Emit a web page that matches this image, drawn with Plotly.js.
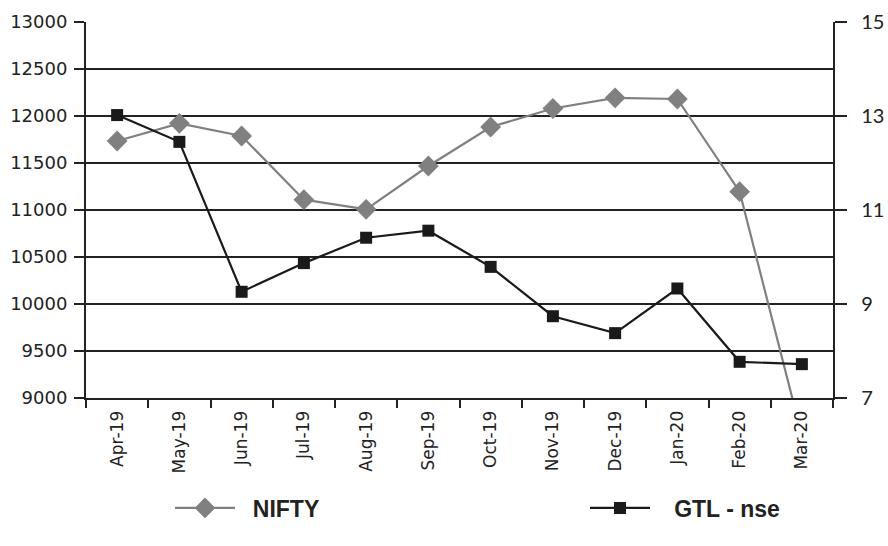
<!DOCTYPE html>
<html><head><meta charset="utf-8">
<script src="https://cdn.plot.ly/plotly-3.0.1.min.js"></script>
<style>html,body{margin:0;padding:0;background:#fff}#chart{width:888px;height:546px}</style>
</head><body><div id="chart"></div>
<script>
const months = ["Apr-19","May-19","Jun-19","Jul-19","Aug-19","Sep-19","Oct-19","Nov-19","Dec-19","Jan-20","Feb-20","Mar-20"];
const nifty = [11734,11922,11787,11110,11007,11468,11883,12080,12193,12181,11195,8600];
const gtl = [13.02,12.45,9.26,9.87,10.41,10.56,9.79,8.74,8.38,9.33,7.77,7.72];
const leftTicks = [9000,9500,10000,10500,11000,11500,12000,12500,13000];
const rightTicks = [7,9,11,13,15];

const legFont = {family: "Liberation Sans Narrow, Liberation Sans, sans-serif", size: 23, color: "#222", weight: "bold"};
const sp = "\u00a0\u00a0";
const traces = [
 {x: months, y: nifty, name: sp + "NIFTY", type: "scatter", mode: "lines+markers",
  line: {color: "#808080", width: 2.2},
  marker: {symbol: "diamond", size: 16, color: "#808080"}, yaxis: "y", legend: "legend"},
 {x: months, y: gtl, name: sp + "\u00a0GTL - nse", type: "scatter", mode: "lines+markers",
  line: {color: "#1a1a1a", width: 2.2},
  marker: {symbol: "square", size: 12, color: "#1a1a1a"}, yaxis: "y2", legend: "legend2"}
];
const layout = {
 width: 888, height: 546,
 margin: {l: 86, r: 55, t: 22, b: 148, autoexpand: false},
 paper_bgcolor: "#fff", plot_bgcolor: "#fff",
 showlegend: true,
 legend: {xref: "container", yref: "container", x: 170/888, xanchor: "left", y: (546-508)/546, yanchor: "middle",
   itemwidth: 60, font: legFont, bgcolor: "rgba(0,0,0,0)"},
 legend2: {xref: "container", yref: "container", x: 585/888, xanchor: "left", y: (546-508)/546, yanchor: "middle",
   itemwidth: 60, font: legFont, bgcolor: "rgba(0,0,0,0)"},
 xaxis: {type: "category", tickson: "boundaries", ticks: "outside", ticklen: 8, tickwidth: 2, tickcolor: "#222",
   showline: true, linecolor: "#222", linewidth: 2, showgrid: false, tickangle: -90, ticklabelstandoff: 4,
   tickfont: {family: "DejaVu Sans, sans-serif", size: 17, color: "#222"}, range: [-0.5, 11.5]},
 yaxis: {range: [9000, 13000], tickvals: leftTicks, ticktext: leftTicks.map(String),
   ticks: "outside", ticklen: 10, tickwidth: 2, tickcolor: "#222", ticklabelstandoff: 3,
   showline: true, linecolor: "#222", linewidth: 2,
   showgrid: true, gridcolor: "#222", gridwidth: 2, zeroline: false,
   tickfont: {family: "DejaVu Sans, sans-serif", size: 18, color: "#222"}},
 yaxis2: {overlaying: "y", side: "right", range: [7, 15], tickvals: rightTicks,
   ticktext: rightTicks.map(v => "\u00a0\u00a0" + v),
   ticks: "outside", ticklen: 12, tickwidth: 2, tickcolor: "#222",
   showline: true, linecolor: "#222", linewidth: 2, showgrid: false, zeroline: false,
   tickfont: {family: "Lato, sans-serif", size: 20, color: "#222"}}
};
Plotly.newPlot("chart", traces, layout, {staticPlot: true});
</script></body></html>
